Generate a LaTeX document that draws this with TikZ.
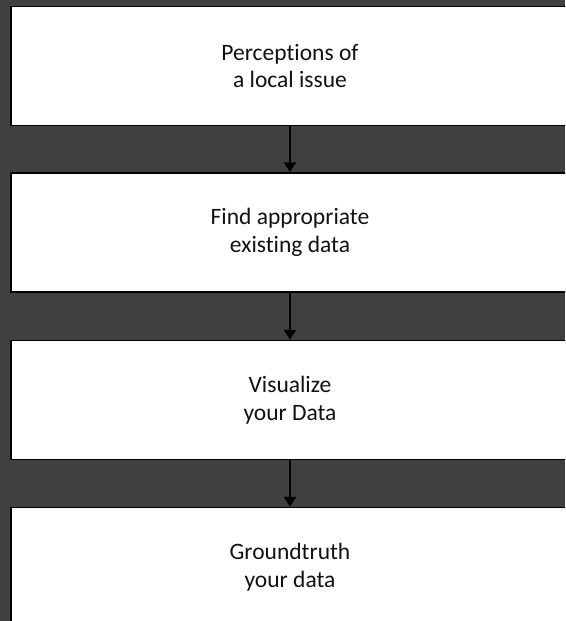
\documentclass[tikz,border=0pt]{standalone}
\usepackage{fontspec}
\setmainfont{Carlito}[Ligatures=NoCommon]
\usetikzlibrary{arrows.meta}
\definecolor{slateBg}{RGB}{64,64,64}
\tikzset{
	stageBox/.style={rectangle, fill=white, draw=black, line width=1.5pt, minimum width=558pt, minimum height=119pt, align=center, text=black!93, font=\fontsize{23.5}{27.5}\selectfont},
	flowArrow/.style={-{Triangle[width=12pt,length=10pt]}, line width=2.5pt, draw=black}
}
\begin{document}
\begin{tikzpicture}[x=1pt, y=-1pt]
		\clip (0,0) rectangle (565,621);
		\fill[slateBg] (0,0) rectangle (565,621);

		\node[stageBox](perceptionBox) at (290,66){Perceptions of\\a local issue};
		\node[stageBox](findBox) at (290,232.5){Find appropriate\\existing data};
		\node[stageBox](visualBox) at (290,400){Visualize\\your Data};
		\node[stageBox](groundBox) at (290,567){Groundtruth\\your data};

		% draw flow edges
		\draw[flowArrow] (perceptionBox.south) -- (findBox.north);
		\draw[flowArrow] (findBox.south) -- (visualBox.north);
		\draw[flowArrow] (visualBox.south) -- (groundBox.north);

	\end{tikzpicture}
\end{document}
